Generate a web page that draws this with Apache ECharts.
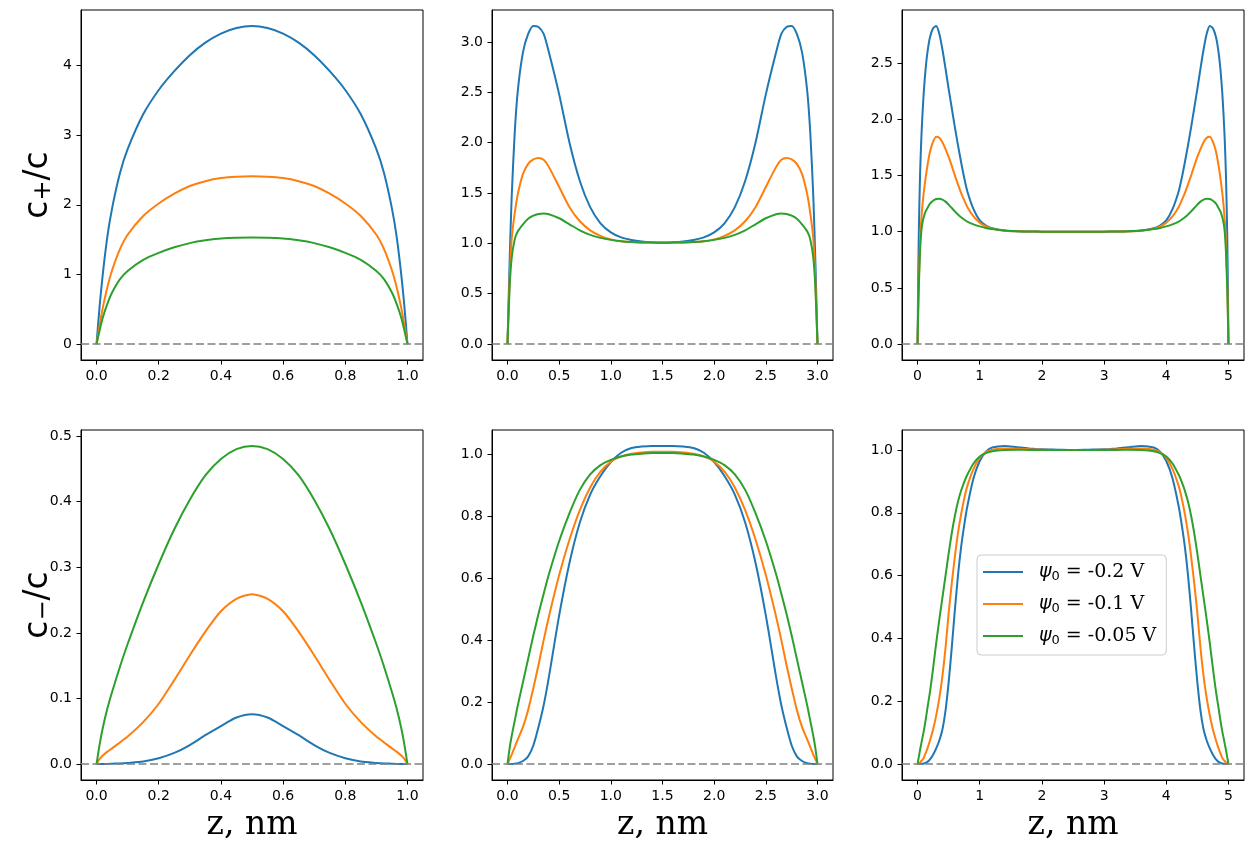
<!DOCTYPE html>
<html lang="en">
<head>
<meta charset="UTF-8">
<title>c+/c and c-/c profiles</title>
<script src="https://cdn.jsdelivr.net/npm/echarts@6.0.0/dist/echarts.min.js"></script>
<style>
  html, body { margin: 0; padding: 0; background: #fff; }
</style>
</head>
<body>
<div id="main" style="width:1253px;height:851px;"></div>
<script type="text/javascript">
// legend names and colours
var names = ['-0.2 V', '-0.1 V', '-0.05 V'];
var colors = ['#1f77b4', '#ff7f0e', '#2ca02c'];

// z grids (nm) for the three slit widths
var z1 = [0,0.01,0.02,0.035,0.05,0.075,0.1,0.15,0.2,0.25,0.3,0.35,0.4,0.45,0.5,0.55,0.6,0.65,0.7,0.75,0.8,0.85,0.9,0.925,0.95,0.965,0.98,0.99,1];
var z3 = [0,0.02,0.04,0.07,0.1,0.15,0.2,0.25,0.3,0.35,0.4,0.5,0.6,0.7,0.8,0.9,1.0,1.1,1.2,1.3,1.4,1.5,1.6,1.7,1.8,1.9,2.0,2.1,2.2,2.3,2.4,2.5,2.6,2.65,2.7,2.75,2.8,2.85,2.9,2.93,2.96,2.98,3.0];
var z5 = [0,0.01,0.02,0.04,0.06,0.08,0.1,0.13,0.16,0.2,0.25,0.3,0.35,0.4,0.45,0.5,0.55,0.6,0.65,0.7,0.75,0.8,0.9,1.0,1.1,1.2,1.4,1.6,1.8,2.0,2.25,2.5,2.75,3.0,3.2,3.4,3.6,3.8,3.9,4.0,4.1,4.2,4.25,4.3,4.35,4.4,4.45,4.5,4.55,4.6,4.65,4.7,4.75,4.8,4.84,4.87,4.9,4.92,4.94,4.96,4.98,4.99,5.0];

// c+/c, width 1 nm
var pos1_02  = [0,0.55,1.0,1.55,1.95,2.45,2.8,3.3,3.65,3.92,4.15,4.33,4.46,4.54,4.57,4.54,4.46,4.33,4.15,3.92,3.65,3.3,2.8,2.45,1.95,1.55,1.0,0.55,0];
var pos1_01  = [0,0.28,0.52,0.82,1.06,1.36,1.57,1.84,2.02,2.16,2.27,2.34,2.385,2.405,2.41,2.405,2.385,2.34,2.27,2.16,2.02,1.84,1.57,1.36,1.06,0.82,0.52,0.28,0];
var pos1_005 = [0,0.2,0.38,0.58,0.74,0.93,1.05,1.21,1.31,1.39,1.45,1.49,1.515,1.527,1.53,1.527,1.515,1.49,1.45,1.39,1.31,1.21,1.05,0.93,0.74,0.58,0.38,0.2,0];
// c-/c, width 1 nm
var neg1_02  = [0,0.0001,0.0002,0.0003,0.0005,0.001,0.0018,0.004,0.009,0.017,0.029,0.044,0.058,0.071,0.076,0.071,0.058,0.044,0.029,0.017,0.009,0.004,0.0018,0.001,0.0005,0.0003,0.0002,0.0001,0];
var neg1_01  = [0,0.008,0.013,0.019,0.024,0.033,0.042,0.064,0.092,0.128,0.166,0.202,0.233,0.252,0.259,0.252,0.233,0.202,0.166,0.128,0.092,0.064,0.042,0.033,0.024,0.019,0.013,0.008,0];
var neg1_005 = [0,0.03,0.055,0.085,0.11,0.148,0.183,0.247,0.305,0.358,0.403,0.44,0.465,0.48,0.485,0.48,0.465,0.44,0.403,0.358,0.305,0.247,0.183,0.148,0.11,0.085,0.055,0.03,0];

// c+/c, width 3 nm
var pos3_02  = [0,0.8,1.45,2.1,2.52,2.9,3.08,3.16,3.15,3.08,2.9,2.48,2.0,1.62,1.36,1.2,1.11,1.06,1.033,1.018,1.011,1.009,1.011,1.018,1.033,1.06,1.11,1.2,1.36,1.62,2.0,2.48,2.9,3.08,3.15,3.16,3.08,2.9,2.52,2.1,1.45,0.8,0];
var pos3_01  = [0,0.62,1.04,1.3,1.49,1.69,1.79,1.835,1.849,1.83,1.76,1.56,1.36,1.22,1.13,1.075,1.04,1.022,1.013,1.009,1.008,1.007,1.008,1.009,1.013,1.022,1.04,1.075,1.13,1.22,1.36,1.56,1.76,1.83,1.849,1.835,1.79,1.69,1.49,1.3,1.04,0.62,0];
var pos3_005 = [0,0.55,0.85,1.04,1.12,1.19,1.245,1.275,1.292,1.297,1.29,1.25,1.19,1.13,1.085,1.055,1.035,1.022,1.014,1.01,1.008,1.007,1.008,1.01,1.014,1.022,1.035,1.055,1.085,1.13,1.19,1.25,1.29,1.297,1.292,1.275,1.245,1.19,1.12,1.04,0.85,0.55,0];
// c-/c, width 3 nm
var neg3_02  = [0,0.0003,0.0006,0.0015,0.003,0.01,0.025,0.06,0.12,0.19,0.28,0.48,0.65,0.78,0.87,0.93,0.975,1.005,1.02,1.025,1.027,1.027,1.027,1.025,1.02,1.005,0.975,0.93,0.87,0.78,0.65,0.48,0.28,0.19,0.12,0.06,0.025,0.01,0.003,0.0015,0.0006,0.0003,0];
var neg3_01  = [0,0.015,0.03,0.055,0.08,0.12,0.175,0.245,0.32,0.4,0.475,0.61,0.725,0.82,0.893,0.944,0.976,0.993,1.002,1.006,1.008,1.008,1.008,1.006,1.002,0.993,0.976,0.944,0.893,0.82,0.725,0.61,0.475,0.4,0.32,0.245,0.175,0.12,0.08,0.055,0.03,0.015,0];
var neg3_005 = [0,0.05,0.09,0.14,0.19,0.265,0.34,0.415,0.485,0.55,0.612,0.72,0.81,0.885,0.935,0.965,0.982,0.993,0.999,1.002,1.004,1.004,1.004,1.002,0.999,0.993,0.982,0.965,0.935,0.885,0.81,0.72,0.612,0.55,0.485,0.415,0.34,0.265,0.19,0.14,0.09,0.05,0];

// c+/c, width 5 nm
var pos5_02  = [0,0.55,0.98,1.5,1.82,2.05,2.24,2.45,2.6,2.73,2.81,2.83,2.76,2.62,2.45,2.27,2.1,1.93,1.77,1.62,1.48,1.36,1.2,1.1,1.055,1.03,1.01,1.003,1.001,1.0,1.0,1.0,1.0,1.0,1.001,1.003,1.01,1.03,1.055,1.1,1.2,1.36,1.48,1.62,1.77,1.93,2.1,2.27,2.45,2.62,2.76,2.83,2.81,2.73,2.6,2.45,2.24,2.05,1.82,1.5,0.98,0.55,0];
var pos5_01  = [0,0.3,0.55,0.9,1.1,1.24,1.35,1.48,1.59,1.71,1.8,1.845,1.835,1.795,1.735,1.665,1.585,1.5,1.42,1.345,1.28,1.22,1.135,1.08,1.047,1.027,1.009,1.003,1.001,1.0,1.0,1.0,1.0,1.0,1.001,1.003,1.009,1.027,1.047,1.08,1.135,1.22,1.28,1.345,1.42,1.5,1.585,1.665,1.735,1.795,1.835,1.845,1.8,1.71,1.59,1.48,1.35,1.24,1.1,0.9,0.55,0.3,0];
var pos5_005 = [0,0.28,0.5,0.82,1.0,1.08,1.13,1.18,1.21,1.25,1.275,1.29,1.293,1.285,1.267,1.24,1.21,1.18,1.152,1.128,1.108,1.09,1.065,1.047,1.033,1.023,1.01,1.004,1.001,1.0,1.0,1.0,1.0,1.0,1.001,1.004,1.01,1.023,1.033,1.047,1.065,1.09,1.108,1.128,1.152,1.18,1.21,1.24,1.267,1.285,1.293,1.29,1.275,1.25,1.21,1.18,1.13,1.08,1.0,0.82,0.5,0.28,0];
// c-/c, width 5 nm
var neg5_02  = [0,0.0001,0.0002,0.0004,0.0007,0.001,0.002,0.004,0.007,0.015,0.03,0.05,0.075,0.11,0.17,0.26,0.37,0.49,0.6,0.69,0.76,0.82,0.91,0.965,0.995,1.008,1.013,1.009,1.005,1.002,1.001,1.0,1.001,1.002,1.005,1.009,1.013,1.008,0.995,0.965,0.91,0.82,0.76,0.69,0.6,0.49,0.37,0.26,0.17,0.11,0.075,0.05,0.03,0.015,0.007,0.004,0.002,0.001,0.0007,0.0004,0.0002,0.0001,0];
var neg5_01  = [0,0.001,0.002,0.005,0.01,0.014,0.02,0.035,0.05,0.075,0.11,0.155,0.21,0.28,0.37,0.48,0.575,0.66,0.735,0.795,0.845,0.885,0.94,0.975,0.993,1.001,1.005,1.004,1.002,1.001,1.0,1.0,1.0,1.001,1.002,1.004,1.005,1.001,0.993,0.975,0.94,0.885,0.845,0.795,0.735,0.66,0.575,0.48,0.37,0.28,0.21,0.155,0.11,0.075,0.05,0.035,0.02,0.014,0.01,0.005,0.002,0.001,0];
var neg5_005 = [0,0.012,0.022,0.045,0.065,0.085,0.105,0.14,0.18,0.23,0.305,0.385,0.46,0.53,0.6,0.67,0.735,0.79,0.835,0.87,0.898,0.921,0.957,0.979,0.99,0.996,1.0,1.001,1.0,1.0,1.0,1.0,1.0,1.0,1.0,1.001,1.0,0.996,0.99,0.979,0.957,0.921,0.898,0.87,0.835,0.79,0.735,0.67,0.6,0.53,0.46,0.385,0.305,0.23,0.18,0.14,0.105,0.085,0.065,0.045,0.022,0.012,0];

// tick values
var xTicks1 = [0, 0.2, 0.4, 0.6, 0.8, 1.0];
var xTicks3 = [0, 0.5, 1.0, 1.5, 2.0, 2.5, 3.0];
var xTicks5 = [0, 1, 2, 3, 4, 5];
var yTicksPos1 = [0, 1, 2, 3, 4];
var yTicksPos3 = [0, 0.5, 1.0, 1.5, 2.0, 2.5, 3.0];
var yTicksPos5 = [0, 0.5, 1.0, 1.5, 2.0, 2.5];
var yTicksNeg1 = [0, 0.1, 0.2, 0.3, 0.4, 0.5];
var yTicksNeg3 = [0, 0.2, 0.4, 0.6, 0.8, 1.0];
var yTicksNeg5 = [0, 0.2, 0.4, 0.6, 0.8, 1.0];

var panels = [
  { z: z1, ys: [pos1_02, pos1_01, pos1_005], xr: [-0.05, 1.05], yr: [-0.2285, 4.7985], xt: xTicks1, yt: yTicksPos1, xd: 1, yd: 0 },
  { z: z3, ys: [pos3_02, pos3_01, pos3_005], xr: [-0.15, 3.15], yr: [-0.158, 3.318], xt: xTicks3, yt: yTicksPos3, xd: 1, yd: 1 },
  { z: z5, ys: [pos5_02, pos5_01, pos5_005], xr: [-0.25, 5.25], yr: [-0.1415, 2.9715], xt: xTicks5, yt: yTicksPos5, xd: 0, yd: 1 },
  { z: z1, ys: [neg1_02, neg1_01, neg1_005], xr: [-0.05, 1.05], yr: [-0.02425, 0.50925], xt: xTicks1, yt: yTicksNeg1, xd: 1, yd: 1 },
  { z: z3, ys: [neg3_02, neg3_01, neg3_005], xr: [-0.15, 3.15], yr: [-0.05135, 1.07835], xt: xTicks3, yt: yTicksNeg3, xd: 1, yd: 1 },
  { z: z5, ys: [neg5_02, neg5_01, neg5_005], xr: [-0.25, 5.25], yr: [-0.05065, 1.06365], xt: xTicks5, yt: yTicksNeg5, xd: 0, yd: 1 }
];

var lefts = [81, 492, 902];
var widths = [342, 341, 342];
var tops = [10, 430];

var myChart = echarts.init(document.getElementById('main'));

var grids = [], xAxes = [], yAxes = [], series = [];
var tickFont = { fontFamily: 'DejaVu Sans', fontSize: 14, color: '#000' };

panels.forEach(function (p, idx) {
  var col = idx % 3, row = Math.floor(idx / 3);
  grids.push({
    left: lefts[col], top: tops[row], width: widths[col], height: 350,
    show: true, borderColor: '#000', borderWidth: 1, backgroundColor: 'transparent'
  });
  var xa = {
    type: 'value', gridIndex: idx, min: p.xr[0], max: p.xr[1],
    axisLine: { show: true, onZero: false, lineStyle: { color: '#000', width: 1 } },
    axisTick: { show: true, inside: false, length: 4.5, lineStyle: { color: '#000' }, customValues: p.xt },
    axisLabel: Object.assign({ margin: 9, customValues: p.xt, formatter: function (v) { return (+v).toFixed(p.xd); } }, tickFont),
    splitLine: { show: false }
  };
  if (row === 1) {
    xa.name = 'z, nm';
    xa.nameLocation = 'middle';
    xa.nameGap = 26;
    xa.nameMoveOverlap = false;
    xa.nameTextStyle = { fontFamily: 'DejaVu Serif', fontSize: 33, color: '#000', lineHeight: 38 };
  }
  xAxes.push(xa);
  var ya = {
    type: 'value', gridIndex: idx, min: p.yr[0], max: p.yr[1],
    axisLine: { show: true, onZero: false, lineStyle: { color: '#000', width: 1 } },
    axisTick: { show: true, inside: false, length: 4.5, lineStyle: { color: '#000' }, customValues: p.yt },
    axisLabel: Object.assign({ margin: 9, customValues: p.yt, formatter: function (v) { return (+v).toFixed(p.yd); } }, tickFont),
    splitLine: { show: false }
  };
  if (col === 0) {
    ya.name = row === 0 ? 'c{s|+}/c' : 'c{s|\u2212}/c';
    ya.nameLocation = 'middle';
    ya.nameGap = 25;
    ya.nameMoveOverlap = false;
    ya.nameTextStyle = {
      fontFamily: 'DejaVu Sans', fontSize: 33, color: '#000', lineHeight: 36,
      rich: { s: { fontFamily: 'DejaVu Sans', fontSize: 24, color: '#000', lineHeight: 26, verticalAlign: 'bottom' } }
    };
  }
  yAxes.push(ya);

  p.ys.forEach(function (vals, k) {
    var s = {
      type: 'line', name: names[k], xAxisIndex: idx, yAxisIndex: idx,
      data: p.z.map(function (x, i) { return [x, vals[i]]; }),
      symbol: 'none', smooth: 0.25,
      lineStyle: { width: 2, color: colors[k] }, itemStyle: { color: colors[k] },
      silent: true
    };
    if (k === 2) {
      // dashed zero line across the whole panel
      s.markLine = {
        silent: true, symbol: 'none', label: { show: false },
        lineStyle: { color: '#808080', type: [8, 3.5], width: 1.6 },
        data: [{ yAxis: 0 }]
      };
    }
    series.push(s);
  });
});

var option = {
  animation: false,
  backgroundColor: '#fff',
  grid: grids,
  xAxis: xAxes,
  yAxis: yAxes,
  legend: {
    data: names,
    orient: 'vertical',
    left: 977, top: 555,
    icon: 'rect',
    itemWidth: 40, itemHeight: 2, itemGap: 10,
    padding: [6, 10, 8, 6],
    backgroundColor: 'rgba(255,255,255,0.8)',
    borderColor: '#cccccc', borderWidth: 1, borderRadius: 4,
    formatter: function (name) { return '{p|\u03c8}{s|0} = ' + name; },
    textStyle: {
      fontFamily: 'DejaVu Serif', fontSize: 19, color: '#000', lineHeight: 22,
      rich: {
        p: { fontFamily: 'DejaVu Sans', fontStyle: 'italic', fontSize: 19, color: '#000', lineHeight: 22, padding: [0, 0, 0, 11] },
        s: { fontFamily: 'DejaVu Sans', fontSize: 13, color: '#000', lineHeight: 15, verticalAlign: 'bottom' }
      }
    }
  },
  series: series
};

myChart.setOption(option);
</script>
</body>
</html>
